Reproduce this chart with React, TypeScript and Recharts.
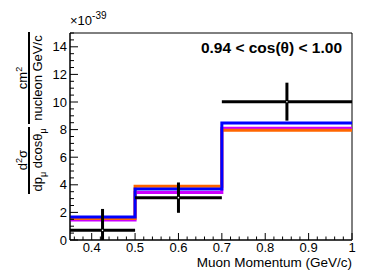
import React from "react";
import {
  ComposedChart,
  Line,
  Scatter,
  ErrorBar,
  XAxis,
  YAxis,
  ReferenceArea,
} from "recharts";

// histogram bins (muon momentum, GeV/c)
const binEdges = [0.35, 0.5, 0.7, 1.0];
const magentaValues = [1.45, 3.45, 8.1];
const orangeValues = [1.55, 3.89, 7.95];
const blueValues = [1.67, 3.7, 8.48];

// measured points (x1e-39)
const dataCenters = [0.425, 0.6, 0.85];
const dataValues = [0.7, 3.07, 10.02];
const dataErrLow = [0.7, 1.1, 1.37];
const dataErrHigh = [1.55, 1.1, 1.38];

const xMajorTicks = [0.4, 0.5, 0.6, 0.7, 0.8, 0.9, 1.0];
const yMajorTicks = [0, 2, 4, 6, 8, 10, 12, 14];
const xAllTicks = Array.from({ length: 33 }, (_, i) => Math.round((0.36 + i * 0.02) * 100) / 100);
const yAllTicks = Array.from({ length: 31 }, (_, i) => i * 0.5);

const FONT = "'Liberation Sans', Arial, Helvetica, sans-serif";

const toSteps = (values: number[]) =>
  binEdges.map((x, i) => ({ x, y: values[Math.min(i, values.length - 1)] }));

const points = dataCenters.map((x, i) => ({
  x,
  y: dataValues[i],
  ex: (binEdges[i + 1] - binEdges[i]) / 2,
  ey: [dataErrLow[i], dataErrHigh[i]],
}));

const isMajor = (list: number[], v: number) => list.some((t) => Math.abs(t - v) < 1e-6);

const XTick = (props: any) => {
  const { x, y, payload } = props;
  const v = payload.value;
  const major = isMajor(xMajorTicks, v);
  return (
    <g>
      <line x1={x} x2={x} y1={y} y2={y - (major ? 7 : 3.5)} stroke="#000" strokeWidth={1} />
      {major && (
        <text x={x} y={y + 12} textAnchor="middle" fontSize={13} fontFamily={FONT} fill="#000">
          {String(Number(v.toFixed(2)))}
        </text>
      )}
    </g>
  );
};

const YTick = (props: any) => {
  const { x, y, payload } = props;
  const v = payload.value;
  const major = isMajor(yMajorTicks, v);
  return (
    <g>
      <line x1={x} x2={x + (major ? 8 : 4)} y1={y} y2={y} stroke="#000" strokeWidth={1} />
      {major && (
        <text x={x - 3} y={y} dy="0.36em" textAnchor="end" fontSize={13} fontFamily={FONT} fill="#000">
          {v}
        </text>
      )}
    </g>
  );
};

export default function App() {
  return (
    <div style={{ position: "fixed", left: 0, top: 0, width: 387, height: 273, background: "#fff" }}>
      <ComposedChart
        width={387}
        height={273}
        margin={{ top: 33, right: 35, left: 30, bottom: 3 }}
      >
        <XAxis
          type="number"
          dataKey="x"
          domain={[0.35, 1]}
          ticks={xAllTicks}
          interval={0}
          allowDataOverflow
          height={30}
          tickSize={0}
          tickMargin={0}
          tickLine={false}
          axisLine={{ stroke: "#000" }}
          tick={<XTick />}
        />
        <YAxis
          type="number"
          dataKey="y"
          domain={[0, 15]}
          ticks={yAllTicks}
          interval={0}
          allowDataOverflow
          width={40}
          tickSize={0}
          tickMargin={0}
          tickLine={false}
          axisLine={{ stroke: "#000" }}
          tick={<YTick />}
        />
        <ReferenceArea x1={0.35} x2={1} y1={0} y2={15} fill="none" stroke="#000" strokeWidth={1} />
        <Line data={toSteps(magentaValues)} dataKey="y" type="stepAfter" stroke="#cc00ff" strokeWidth={3} dot={false} isAnimationActive={false} />
        <Line data={toSteps(orangeValues)} dataKey="y" type="stepAfter" stroke="#ff6600" strokeWidth={3} dot={false} isAnimationActive={false} />
        <Line data={toSteps(blueValues)} dataKey="y" type="stepAfter" stroke="#0000ff" strokeWidth={3} dot={false} isAnimationActive={false} />
        <Scatter
          data={points}
          dataKey="y"
          isAnimationActive={false}
          shape={(p: any) => <circle cx={p.cx} cy={p.cy} r={0.8} fill="#fff" />}
        >
          <ErrorBar dataKey="ex" direction="x" width={0} stroke="#000" strokeWidth={3} />
          <ErrorBar dataKey="ey" direction="y" width={0} stroke="#000" strokeWidth={3} />
        </Scatter>
      </ComposedChart>
      <svg
        width={387}
        height={273}
        style={{ position: "absolute", left: 0, top: 0, pointerEvents: "none" }}
        fontFamily={FONT}
      >
        <text x={70} y={25} fontSize={13} fill="#000">
          ×10<tspan dy={-6} fontSize={10}>-39</tspan>
        </text>
        <text x={342} y={53} textAnchor="end" fontSize={15.5} fontWeight="bold" fill="#000">
          0.94 &lt; cos(θ) &lt; 1.00
        </text>
        <text x={352} y={267} textAnchor="end" fontSize={13.5} fill="#000">
          Muon Momentum (GeV/c)
        </text>
        <g transform="rotate(-90)" fill="#000" fontSize={13}>
          <text x={-160} y={27} textAnchor="middle">
            d<tspan dy={-5} fontSize={9}>2</tspan><tspan dy={5}>σ</tspan>
          </text>
          <text x={-160} y={42} textAnchor="middle">
            dp<tspan dy={4} fontSize={9}>μ</tspan><tspan dy={-4}> dcosθ</tspan><tspan dy={4} fontSize={9}>μ</tspan>
          </text>
          <text x={-78} y={27} textAnchor="middle">
            cm<tspan dy={-5} fontSize={9}>2</tspan>
          </text>
          <text x={-78} y={42} textAnchor="middle">
            nucleon GeV/c
          </text>
        </g>
        <rect x={28} y={127} width={2} height={67} fill="#000" />
        <rect x={28} y={32} width={2} height={92} fill="#000" />
      </svg>
    </div>
  );
}
